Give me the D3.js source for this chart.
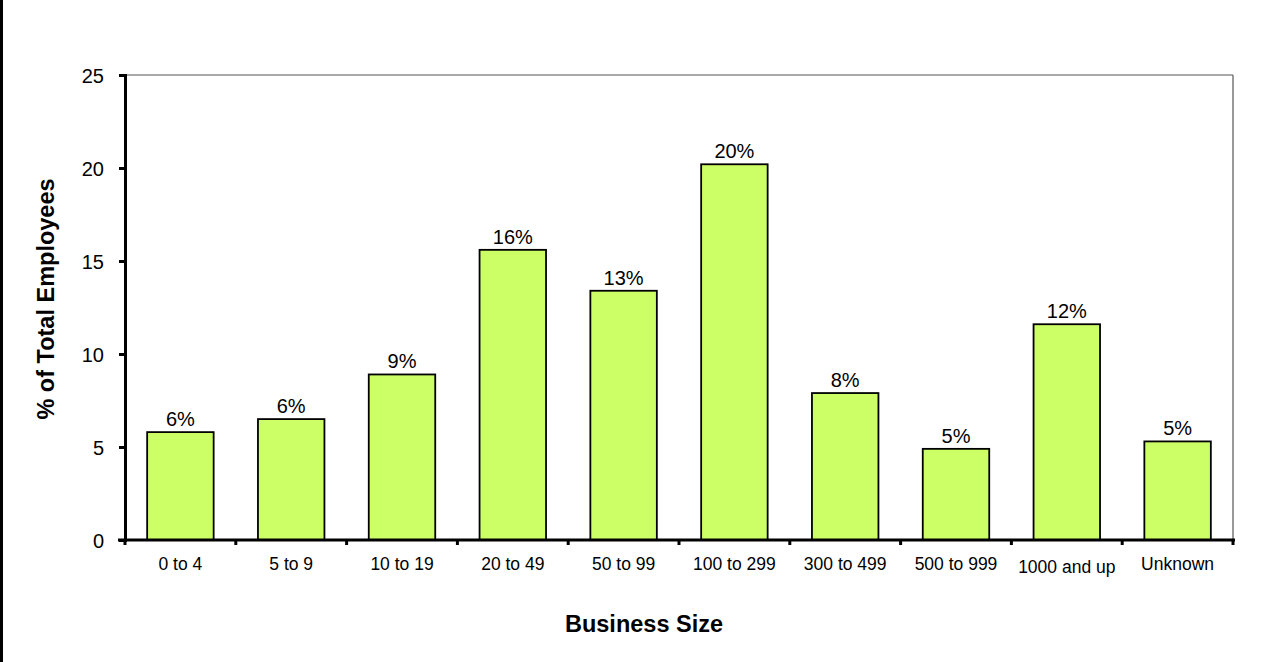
<!DOCTYPE html>
<html>
<head>
<meta charset="utf-8">
<script src="https://cdn.jsdelivr.net/npm/d3@7"></script>
<style>
  html, body { margin: 0; padding: 0; background: #fff; }
  svg { display: block; }
  text { font-family: "Liberation Sans", Arial, sans-serif; fill: #000; }
</style>
</head>
<body>
<svg id="chart" width="1272" height="662"></svg>
<script>
// Share of total employees by business size
const categories = ["0 to 4", "5 to 9", "10 to 19", "20 to 49", "50 to 99",
                    "100 to 299", "300 to 499", "500 to 999", "1000 and up", "Unknown"];
const shares = [5.8, 6.5, 8.9, 15.6, 13.4, 20.2, 7.9, 4.9, 11.6, 5.3];
const shareLabels = ["6%", "6%", "9%", "16%", "13%", "20%", "8%", "5%", "12%", "5%"];
const yTicks = [0, 5, 10, 15, 20, 25];

const svg = d3.select("#chart");
const W = 1272, H = 662;
const m = { left: 125, right: 39, top: 75, bottom: 122 };
const iw = W - m.left - m.right, ih = H - m.top - m.bottom;

// thin dark frame strip on the left edge
svg.append("rect").attr("x", 0).attr("y", 0).attr("width", 3).attr("height", H).attr("fill", "#000");

const g = svg.append("g").attr("transform", `translate(${m.left},${m.top})`);

const x = d3.scaleBand().domain(categories).range([0, iw]).paddingInner(0.4).paddingOuter(0.2);
const y = d3.scaleLinear().domain([0, 25]).range([ih, 0]);

// plot frame: top and right edges
g.append("line").attr("x1", 0).attr("x2", iw).attr("y1", 0).attr("y2", 0)
  .attr("stroke", "#555").attr("stroke-width", 1.2);
g.append("line").attr("x1", iw).attr("x2", iw).attr("y1", 0).attr("y2", ih)
  .attr("stroke", "#777").attr("stroke-width", 1.5);

// bars
g.selectAll("rect.bar").data(categories).join("rect")
  .attr("class", "bar")
  .attr("x", d => x(d))
  .attr("y", (d, i) => y(shares[i]))
  .attr("width", x.bandwidth())
  .attr("height", (d, i) => y(0) - y(shares[i]))
  .attr("fill", "#CCFF66")
  .attr("stroke", "#000")
  .attr("stroke-width", 1.8);

// value labels
g.selectAll("text.val").data(categories).join("text")
  .attr("class", "val")
  .attr("x", d => x(d) + x.bandwidth() / 2)
  .attr("y", (d, i) => y(shares[i]) - 6)
  .attr("text-anchor", "middle")
  .attr("font-size", 20)
  .text((d, i) => shareLabels[i]);

// y axis
const yAxis = g.append("g").call(d3.axisLeft(y).tickValues(yTicks).tickSize(6).tickPadding(15));
yAxis.attr("font-size", 20).attr("font-family", "Liberation Sans, Arial, sans-serif");
yAxis.select(".domain").attr("stroke", "#000").attr("stroke-width", 3);
yAxis.selectAll(".tick line").attr("stroke", "#000").attr("stroke-width", 3);
yAxis.selectAll(".tick text").attr("font-size", 20).attr("dy", "0.35em");

// x axis with ticks at category boundaries
const boundaries = d3.range(categories.length + 1).map(i => i * (iw / categories.length));
const xAxisG = g.append("g").attr("transform", `translate(0,${ih})`);
xAxisG.append("line").attr("x1", -7).attr("x2", iw + 2).attr("y1", 0).attr("y2", 0)
  .attr("stroke", "#000").attr("stroke-width", 3);
xAxisG.selectAll("line.tk").data(boundaries).join("line")
  .attr("class", "tk")
  .attr("x1", d => d).attr("x2", d => d).attr("y1", 0).attr("y2", 5)
  .attr("stroke", "#000").attr("stroke-width", 3);
xAxisG.selectAll("text.cat").data(categories).join("text")
  .attr("class", "cat")
  .attr("x", d => x(d) + x.bandwidth() / 2)
  .attr("y", d => d === "1000 and up" ? 33 : 30)
  .attr("text-anchor", "middle")
  .attr("font-size", 17.5)
  .text(d => d);

// axis titles
svg.append("text")
  .attr("x", 644).attr("y", 632)
  .attr("text-anchor", "middle").attr("font-size", 23.5).attr("font-weight", "bold")
  .text("Business Size");
svg.append("text")
  .attr("transform", `translate(54,299) rotate(-90)`)
  .attr("text-anchor", "middle").attr("font-size", 23.5).attr("font-weight", "bold")
  .text("% of Total Employees");
</script>
</body>
</html>
